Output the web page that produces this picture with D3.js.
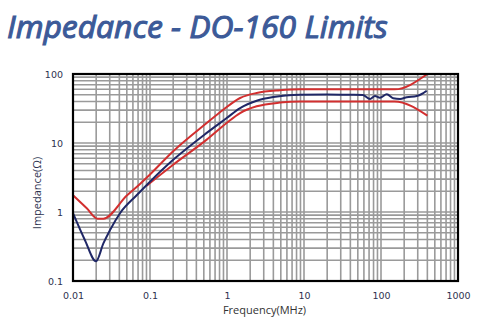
<!DOCTYPE html>
<html>
<head>
<meta charset="utf-8">
<script src="https://cdn.jsdelivr.net/npm/d3@7"></script>
<style>
  body { margin: 0; background: #fff; }
  svg { display: block; }
</style>
</head>
<body>
<svg id="mysvg" width="482" height="322"></svg>
<script>
// axis ticks
const freqTicks = [0.01, 0.1, 1, 10, 100, 1000];
const zTicks = [0.1, 1, 10, 100];

// measured impedance (MHz, ohm)
const nomFreq = [0.01, 0.0143, 0.0199, 0.0248, 0.0303, 0.0408, 0.0671, 0.1, 0.2, 0.545, 0.99, 1.48, 2.43, 3.99, 8.87, 20, 40, 58, 72, 83.5, 97, 119, 144, 177, 216, 291, 338, 392];
const nomZ = [0.96, 0.39, 0.193, 0.35, 0.55, 0.96, 1.75, 2.75, 5.7, 14.0, 23.0, 32.1, 41.0, 46.4, 50, 50.5, 50, 49.6, 43.4, 48, 45.4, 50.8, 44.4, 43.4, 46, 48, 51.3, 57.3];

// DO-160 upper limit
const upFreq = [0.01, 0.0151, 0.0209, 0.0248, 0.05, 0.0741, 0.1, 0.2, 0.545, 0.895, 1.48, 2.43, 4.87, 8.87, 20, 150, 400];
const upZ = [1.75, 1.13, 0.80, 0.80, 1.73, 2.55, 3.5, 7.6, 19.5, 30.4, 44.9, 53.1, 58.1, 60, 60, 60, 100];

// DO-160 lower limit
const loFreq = [0.09, 0.2, 0.545, 0.99, 1.48, 2.43, 4.87, 8.87, 20, 150, 400];
const loZ = [2.4, 4.85, 11.2, 19.5, 27.2, 34.0, 38.5, 40, 40, 40, 25];

function drawChart()
{
    const svg = d3.select("#mysvg");
    const left = 73, top = 74, w = 385, h = 207;

    // title, sized so it spans about 381px
    var title = svg.append("text")
        .attr("x", 7)
        .attr("y", 38)
        .style("font-family", "'Liberation Sans Narrow', 'Open Sans', sans-serif")
        .style("font-style", "italic")
        .style("font-size", "38px")
        .style("fill", "#3c5a98")
        .style("stroke", "#3c5a98")
        .style("stroke-width", 1.1)
        .text("Impedance - DO-160 Limits");
    var tw = title.node().getComputedTextLength();
    var fs = Math.min(40, 38 * 381 / tw);
    title.style("font-size", fs + "px");

    var x = d3.scaleLog().domain([0.01, 1000]).range([left, left + w]);
    var y = d3.scaleLog().domain([0.1, 100]).range([top + h, top]);

    // grid lines 1..9 per decade
    var xGrid = [], yGrid = [];
    for (var e = -2; e < 3; e++) for (var k = 1; k < 10; k++) xGrid.push(k * Math.pow(10, e));
    for (var e = -1; e < 2; e++) for (var k = 1; k < 10; k++) yGrid.push(k * Math.pow(10, e));

    var grid = svg.append("g").attr("stroke", "#9a9a9a").attr("stroke-width", 1.6);
    grid.selectAll(".gx").data(xGrid).enter().append("line")
        .attr("x1", d => x(d)).attr("x2", d => x(d))
        .attr("y1", top).attr("y2", top + h);
    grid.selectAll(".gy").data(yGrid).enter().append("line")
        .attr("y1", d => y(d)).attr("y2", d => y(d))
        .attr("x1", left).attr("x2", left + w);

    // tick labels
    var fmt = d => String(d);
    var xAxis = svg.append("g")
        .attr("transform", "translate(0," + (top + h) + ")")
        .call(d3.axisBottom(x).tickValues(freqTicks).tickFormat(fmt).tickSize(0).tickPadding(11));
    var yAxis = svg.append("g")
        .attr("transform", "translate(" + left + ",0)")
        .call(d3.axisLeft(y).tickValues(zTicks).tickFormat(fmt).tickSize(0).tickPadding(10));
    [xAxis, yAxis].forEach(function(a) {
        a.select(".domain").remove();
        a.selectAll("text")
            .style("font-family", "'DejaVu Sans', sans-serif")
            .style("font-size", "9.5px")
            .style("fill", "#2e3350");
    });

    // curves
    function lineOf(fs, zs) {
        return d3.line()
            .x((d, i) => x(fs[i]))
            .y((d, i) => y(zs[i]))
            .curve(d3.curveMonotoneX)(fs);
    }
    svg.append("path").attr("d", lineOf(upFreq, upZ))
        .attr("fill", "none").attr("stroke", "#d22f2f").attr("stroke-width", 2);
    svg.append("path").attr("d", lineOf(loFreq, loZ))
        .attr("fill", "none").attr("stroke", "#d22f2f").attr("stroke-width", 2);
    svg.append("path").attr("d", lineOf(nomFreq, nomZ))
        .attr("fill", "none").attr("stroke", "#1f2766").attr("stroke-width", 2);

    // frame
    svg.append("rect")
        .attr("x", left).attr("y", top).attr("width", w).attr("height", h)
        .attr("fill", "none").attr("stroke", "#000").attr("stroke-width", 2.2);

    // axis titles
    svg.append("text")
        .attr("x", left + w / 2 - 1)
        .attr("y", 314)
        .attr("text-anchor", "middle")
        .style("font-family", "'Open Sans', sans-serif")
        .style("font-size", "11px")
        .style("fill", "#333")
        .text("Frequency(MHz)");
    svg.append("text")
        .attr("transform", "translate(41,193) rotate(-90)")
        .attr("text-anchor", "middle")
        .style("font-family", "'Open Sans', sans-serif")
        .style("font-size", "11px")
        .style("fill", "#2e3350")
        .text("Impedance(Ω)");
}

drawChart();
</script>
</body>
</html>
